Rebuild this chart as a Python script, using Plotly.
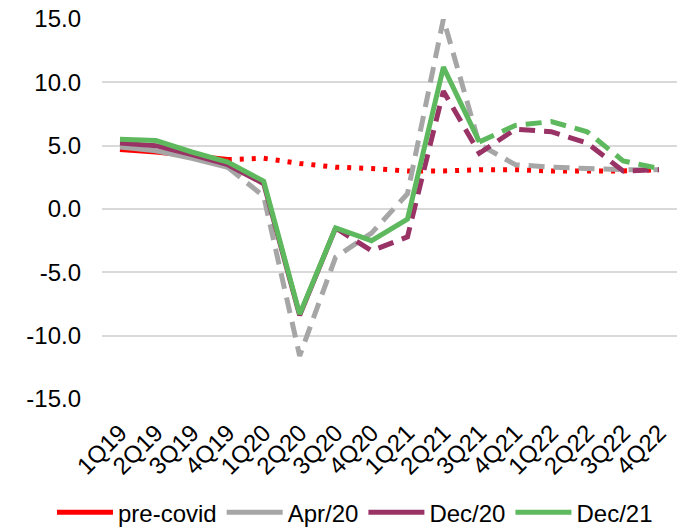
import plotly.graph_objects as go

categories = ["1Q19", "2Q19", "3Q19", "4Q19", "1Q20", "2Q20", "3Q20", "4Q20",
              "1Q21", "2Q21", "3Q21", "4Q21", "1Q22", "2Q22", "3Q22", "4Q22"]

pre_covid = [4.7, 4.5, 4.2, 3.9, 4.0, 3.6, 3.3, 3.2, 3.0, 3.0, 3.1, 3.1, 3.0, 3.0, 3.0, 3.1]
apr20 = [4.9, 4.6, 4.0, 3.3, 1.0, -11.6, -3.8, -1.9, 1.2, 15.0, 5.1, 3.5, 3.3, 3.2, 3.1, 3.1]
dec20 = [5.2, 5.0, 4.3, 3.5, 2.0, -8.4, -1.5, -3.3, -2.2, 9.3, 4.4, 6.3, 6.1, 5.2, 3.0, 3.1]
dec21 = [5.5, 5.4, 4.5, 3.7, 2.2, -8.3, -1.5, -2.5, -0.8, 11.2, 5.3, 6.6, 6.9, 6.1, 3.8, 3.2]

# index of last actual (solid) point for each vintage
split_pre = 3
split_apr = 3
split_dec20 = 6
split_dec21 = 10

y_tickvals = [-15, -10, -5, 0, 5, 10, 15]
y_ticktext = ["-15.0", "-10.0", "-5.0", "0.0", "5.0", "10.0", "15.0"]

FONT = "Liberation Sans, Arial, sans-serif"
series = [
    ("pre-covid", pre_covid, split_pre, "#FF0000", "4px,8px"),
    ("Apr/20", apr20, split_apr, "#A6A6A6", "16px,9px"),
    ("Dec/20", dec20, split_dec20, "#993366", "16px,9px"),
    ("Dec/21", dec21, split_dec21, "#5EB95E", "16px,9px"),
]

fig = go.Figure()
for name, vals, s, color, dash in series:
    fig.add_trace(go.Scatter(
        x=categories[s:], y=vals[s:], mode="lines", name=name,
        line=dict(color=color, width=5, dash=dash),
        showlegend=False, legendgroup=name,
    ))
    fig.add_trace(go.Scatter(
        x=categories[:s + 1], y=vals[:s + 1], mode="lines", name=name,
        line=dict(color=color, width=5),
        showlegend=True, legendgroup=name,
    ))

fig.update_layout(
    width=684, height=527,
    margin=dict(l=102, r=7, t=19, b=128, autoexpand=False),
    paper_bgcolor="white", plot_bgcolor="white",
    font=dict(family=FONT, size=24, color="#000000"),
    showlegend=True,
    legend=dict(orientation="h", xref="paper", yref="paper",
                x=-0.087, xanchor="left", y=-0.299, yanchor="middle",
                font=dict(family=FONT, size=24, color="#000000"),
                traceorder="normal", itemwidth=56,
                bgcolor="rgba(0,0,0,0)"),
)
fig.update_xaxes(
    type="category", categoryorder="array", categoryarray=categories,
    range=[-0.5, len(categories) - 0.5],
    tickangle=-45, showgrid=False, showline=False, zeroline=False,
    ticks="", ticklabelstandoff=14, automargin=False,
    tickfont=dict(family=FONT, size=24),
)
fig.update_yaxes(
    range=[-15, 15], tickvals=y_tickvals, ticktext=y_ticktext,
    showgrid=True, gridcolor="#D9D9D9", gridwidth=1.5,
    zeroline=False, showline=False, ticks="", ticklabelstandoff=20,
    automargin=False,
    tickfont=dict(family=FONT, size=24),
)

fig.write_html("out.html", post_script="document.body.style.margin='0';",
               config={"displayModeBar": False})
